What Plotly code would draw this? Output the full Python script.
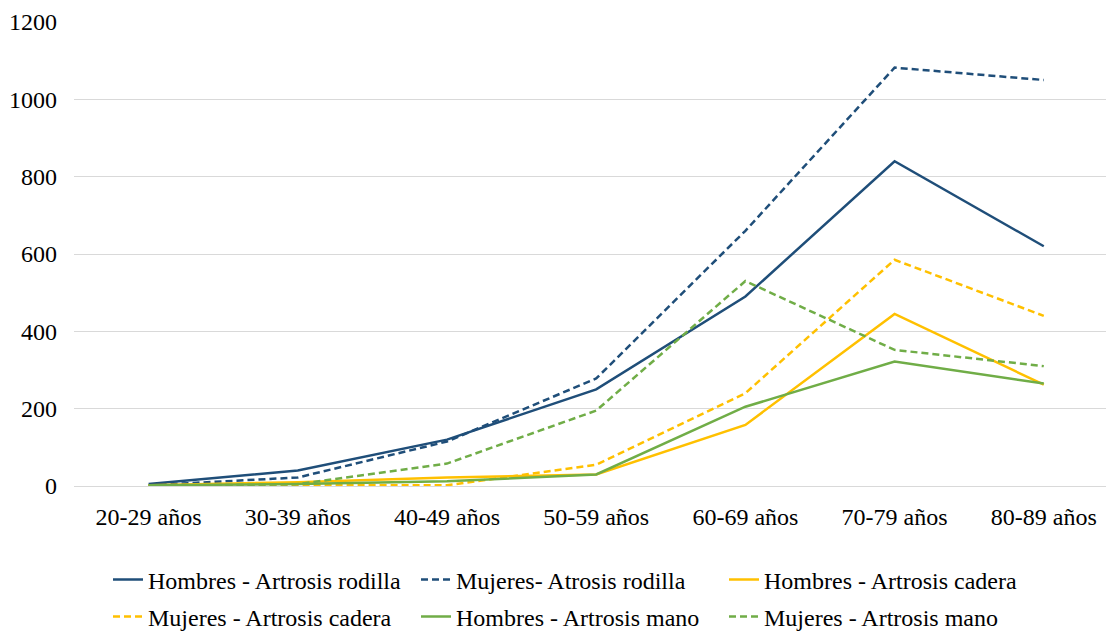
import plotly.graph_objects as go

categories = ["20-29 años", "30-39 años", "40-49 años", "50-59 años", "60-69 años", "70-79 años", "80-89 años"]
hombres_rodilla = [5, 40, 120, 250, 490, 840, 620]
mujeres_rodilla = [2, 22, 115, 278, 660, 1082, 1050]
hombres_cadera = [2, 10, 22, 30, 158, 445, 262]
mujeres_cadera = [0, 2, 2, 55, 240, 585, 440]
hombres_mano = [2, 5, 12, 30, 205, 322, 265]
mujeres_mano = [0, 5, 58, 195, 530, 352, 310]

NAVY = "#1F4E79"
YELLOW = "#FFC000"
GREEN = "#70AD47"
DASH = "7px,4px"

series = [
    ("Hombres - Artrosis rodilla", hombres_rodilla, NAVY, "solid", "legend"),
    ("Mujeres- Atrosis rodilla", mujeres_rodilla, NAVY, DASH, "legend"),
    ("Hombres - Artrosis cadera", hombres_cadera, YELLOW, "solid", "legend"),
    ("Mujeres - Artrosis cadera", mujeres_cadera, YELLOW, DASH, "legend2"),
    ("Hombres - Artrosis mano", hombres_mano, GREEN, "solid", "legend2"),
    ("Mujeres - Artrosis mano", mujeres_mano, GREEN, DASH, "legend2"),
]

fig = go.Figure()
for name, vals, color, dash, leg in series:
    fig.add_trace(go.Scatter(
        x=categories, y=vals, name=name, mode="lines", legend=leg,
        line=dict(color=color, width=2.5, dash=dash),
    ))

FONT = "Liberation Serif"
FS = 24
legend_common = dict(
    orientation="h", xref="container", yref="container",
    x=108 / 1106, xanchor="left", yanchor="middle",
    entrywidth=263, entrywidthmode="pixels",
    font=dict(size=FS, family=FONT, color="black"), itemwidth=30,
    bgcolor="rgba(0,0,0,0)",
)
fig.update_layout(
    width=1106, height=633,
    margin=dict(l=74, r=0, t=22, b=147),
    paper_bgcolor="white", plot_bgcolor="white",
    font=dict(family=FONT, size=FS, color="black"),
    xaxis=dict(
        type="category", range=[-0.5, 6.417],
        showgrid=False, showline=False, zeroline=False,
        ticks="", tickfont=dict(size=FS, family=FONT), ticklabelstandoff=14,
    ),
    yaxis=dict(
        range=[0, 1200], dtick=200, showgrid=True, gridcolor="#D9D9D9",
        gridwidth=1, zeroline=True, zerolinecolor="#D9D9D9", zerolinewidth=1,
        showline=False, ticks="", tickfont=dict(size=FS, family=FONT), ticklabelstandoff=16,
    ),
    legend=dict(legend_common, y=1 - 580 / 633),
    legend2=dict(legend_common, y=1 - 617 / 633),
    showlegend=True,
)

fig.write_html("out.html")
